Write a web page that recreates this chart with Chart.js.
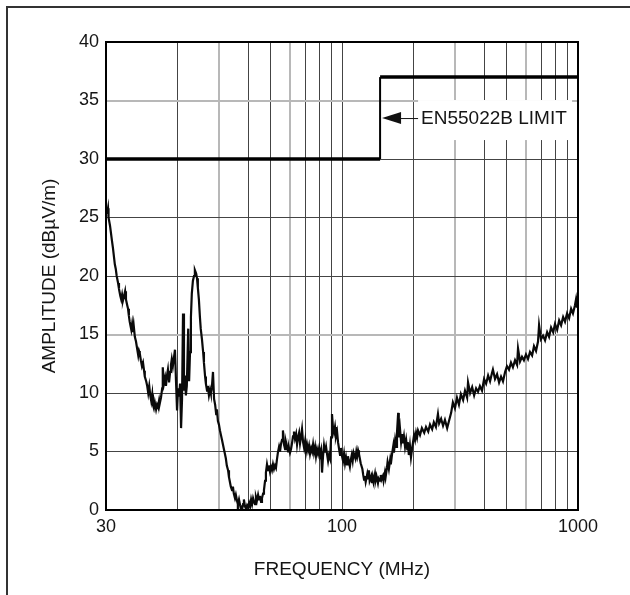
<!DOCTYPE html>
<html>
<head>
<meta charset="utf-8">
<script src="https://cdn.jsdelivr.net/npm/chart.js@4.4.1/dist/chart.umd.min.js"></script>
<style>
  body { margin: 0; background: #fff; }
  #wrap { position: relative; width: 630px; height: 595px; overflow: hidden; }
  #frame { position: absolute; left: 6px; top: 6px; width: 700px; height: 700px;
           border-top: 2px solid #333; border-left: 2px solid #333; }
  #myChart { position: absolute; left: 0; top: 0; }
</style>
</head>
<body>
<div id="wrap">
  <div id="frame"></div>
  <canvas id="myChart" width="630" height="595"></canvas>
</div>
<script>
// measured emission trace (x in grid MHz, y in dBuV/m)
var freq = [
  10.1,10.2,10.25,10.4,10.6,10.7,10.9,11.0,11.1,11.25,
  11.35,11.5,11.6,11.7,11.8,11.9,12.05,12.15,12.3,12.4,
  12.5,12.6,12.8,12.9,13.0,13.1,13.25,13.4,13.5,13.7,
  13.8,13.9,14.05,14.2,14.35,14.5,14.6,14.8,14.95,15.1,
  15.25,15.4,15.55,15.7,15.8,15.95,16.1,16.3,16.45,16.6,
  16.8,16.9,17.1,17.3,17.4,17.6,17.8,17.95,18.1,18.3,
  18.5,18.7,18.85,19.0,19.2,19.4,19.6,19.8,20.0,20.2,
  20.4,20.6,20.8,21.0,21.2,21.4,21.6,21.8,22.0,22.3,
  22.5,22.7,22.9,23.1,23.35,23.6,23.8,24.1,24.3,24.5,
  24.75,25.0,25.2,25.5,25.8,26.0,26.3,26.5,26.8,27.0,
  27.3,27.6,27.8,28.1,28.4,28.7,29.0,29.3,29.5,29.8,
  30.1,30.4,30.7,31.0,31.3,31.6,31.9,32.2,32.5,32.9,
  33.2,33.5,33.8,34.2,34.5,34.8,35.2,35.5,35.9,36.2,
  36.6,37.0,37.3,37.7,38.1,38.4,38.8,39.2,39.6,40.0,
  40.4,40.8,41.2,41.6,42.0,42.4,42.8,43.2,43.6,44.1,
  44.5,44.9,45.4,45.8,46.3,46.7,47.2,47.6,48.1,48.6,
  49.0,49.5,50.0,50.5,51.0,51.5,52.0,52.5,53.0,53.5,
  54.1,54.6,55.1,55.7,56.2,56.8,57.4,57.9,58.5,59.1,
  59.6,60.2,60.8,61.4,62.0,62.6,63.2,63.9,64.5,65.1,
  65.8,66.4,67.1,67.7,68.4,69.1,69.8,70.4,71.1,71.8,
  72.5,73.2,74.0,74.7,75.4,76.1,76.9,77.6,78.4,79.2,
  80.0,80.7,81.5,82.3,83.1,83.9,84.7,85.6,86.4,87.3,
  88.1,89.0,89.9,90.7,91.6,92.5,93.4,94.3,95.3,96.2,
  97.2,98.1,99.0,100,101,102,103,104,105,106,
  107,108,109,110,111,112,114,115,116,117,
  118,119,120,122,123,124,125,126,128,129,
  130,131,133,134,135,136,138,139,140,142,
  143,145,146,147,149,150,152,153,155,156,
  158,160,161,163,165,166,168,170,171,173,
  174,176,178,180,181,183,185,187,189,190,
  192,194,196,198,200,202,204,206,208,210,
  214,218,223,227,232,236,241,245,250,255,
  258,263,268,273,279,284,290,295,301,307,
  313,319,326,332,339,342,349,356,363,370,
  377,384,392,400,408,416,424,432,436,445,
  454,463,472,481,491,500,510,520,530,541,
  552,557,568,579,590,602,614,626,639,651,
  664,677,684,697,711,725,740,754,769,785,
  799,816,832,848,865,881,899,917,935,952,
  971,981,990,1000
];
var amp = [
  25.3,25.8,25.0,24.3,23.0,22.4,21.0,20.6,20.0,19.4,
  18.9,18.3,18.0,18.4,17.9,18.2,18.7,18.0,17.5,17.2,
  16.6,16.1,15.4,15.9,15.2,15.8,14.8,14.4,14.0,13.2,
  13.6,13.4,12.8,12.3,12.6,11.9,11.4,11.0,10.6,10.0,
  10.6,9.8,9.3,9.9,9.0,8.7,9.2,8.6,9.0,8.8,
  9.4,9.1,9.6,10.4,12.2,10.8,11.3,10.6,11.4,12.0,
  10.9,11.8,12.4,12.9,12.3,13.0,13.7,11.0,8.5,10.4,
  9.7,10.8,7.0,9.5,16.8,10.2,11.5,9.8,10.6,15.5,
  11.0,13.5,16.5,18.5,19.6,20.0,20.5,20.2,19.8,19.0,
  18.0,16.5,15.5,14.6,13.5,12.6,11.4,10.8,10.2,10.6,
  9.8,10.3,10.0,10.5,11.8,9.5,9.0,8.2,8.6,7.6,
  7.3,6.8,6.4,6.0,5.6,5.2,4.8,4.4,3.8,3.4,
  2.8,2.4,2.0,1.7,2.0,1.4,1.0,1.3,0.8,0.5,
  0.9,0.4,0.1,0.0,0.5,0.9,0.3,0.1,0.4,0.2,
  0.6,0.3,0.9,0.5,1.0,0.7,0.5,1.1,0.8,1.3,
  0.9,1.2,0.7,1.0,1.4,1.7,2.5,3.2,3.9,3.4,
  3.8,3.3,3.7,3.4,3.9,3.5,3.8,3.6,4.3,4.9,
  5.4,5.0,5.6,6.0,6.8,5.6,5.2,5.8,5.4,5.0,
  5.3,4.9,5.2,5.7,6.3,6.7,6.1,6.5,5.6,6.2,
  6.6,5.7,6.3,6.9,5.8,5.3,5.9,5.0,5.6,5.1,
  5.5,4.8,5.3,5.0,5.6,4.9,5.4,4.6,5.2,4.8,
  5.3,4.7,5.1,3.2,4.6,5.5,4.9,5.4,4.8,4.2,
  4.7,4.4,6.2,8.2,7.0,6.6,7.1,6.3,6.7,5.8,
  5.2,4.7,5.3,4.6,4.2,4.8,4.0,4.5,3.9,4.6,
  4.1,3.7,4.3,4.7,4.2,4.9,4.4,5.0,4.6,5.1,
  4.8,4.4,4.0,3.5,3.0,2.6,2.9,2.4,3.1,2.7,
  3.4,2.5,2.9,2.3,2.8,2.4,3.1,2.6,2.9,2.3,
  2.7,2.5,3.0,2.6,2.9,2.5,3.2,2.8,3.6,4.1,
  3.5,4.3,3.9,4.8,5.5,4.9,6.0,5.4,6.6,8.3,
  6.2,7.0,5.8,6.5,5.7,6.3,5.4,6.0,5.2,5.8,
  4.7,5.5,4.5,5.2,5.8,6.4,6.0,6.6,6.2,6.8,
  6.4,7.0,6.6,7.1,6.7,7.3,6.9,7.5,7.1,8.2,
  7.4,7.8,7.2,7.7,7.0,7.6,8.3,9.2,8.7,9.6,
  9.0,9.9,9.4,10.2,9.6,10.9,10.0,10.5,9.8,10.4,
  10.1,10.6,10.2,11.2,10.8,11.5,11.0,11.7,12.0,11.2,
  11.6,10.9,11.4,11.0,11.8,12.3,12.0,12.6,12.2,12.8,
  12.4,13.8,12.7,13.1,12.8,13.3,12.9,13.5,13.2,14.0,
  13.6,14.4,15.8,14.6,14.9,14.5,15.2,14.8,15.6,15.2,
  15.9,15.4,16.2,15.8,16.5,16.1,16.8,16.4,17.2,16.8,
  17.5,18.0,17.3,18.3
];

// EN55022B limit line
var limitFreq = [10, 145, 145, 1000];
var limitAmp = [30, 30, 37, 37];
var noteText = 'EN55022B LIMIT';
var noteLevel = 33.5;

// axes
var xGrid = [10,20,30,40,50,60,70,80,90,100,200,300,400,500,600,700,800,900,1000];
var xTickValues = [10, 100, 1000];
var xTickLabels = ['30', '100', '1000'];
var xLightGrid = [30, 60, 300, 600];
var yLightGrid = [15, 35];

var FONT = "'Liberation Sans', Arial, Helvetica, sans-serif";
var TEXT = '#151515';

var ctx = document.getElementById('myChart');

var limitNote = {
  id: 'limitNote',
  afterDatasetsDraw: function(chart) {
    var c = chart.ctx;
    var area = chart.chartArea;
    var tipX = chart.scales.x.getPixelForValue(limitFreq[1]) + 2;
    var midY = chart.scales.y.getPixelForValue(noteLevel);
    c.save();
    // white box behind label
    c.fillStyle = '#fff';
    c.fillRect(tipX + 36, midY - 18, 154, 40);
    // arrow
    c.fillStyle = '#111';
    c.beginPath();
    c.moveTo(tipX, midY);
    c.lineTo(tipX + 19, midY - 6);
    c.lineTo(tipX + 19, midY + 6);
    c.closePath();
    c.fill();
    c.strokeStyle = '#111';
    c.lineWidth = 1;
    c.beginPath();
    c.moveTo(tipX + 18, midY + 0.5);
    c.lineTo(tipX + 36, midY + 0.5);
    c.stroke();
    // label
    c.font = '19px ' + FONT;
    c.fillStyle = TEXT;
    c.textBaseline = 'middle';
    c.textAlign = 'left';
    c.fillText(noteText, tipX + 39, midY + 1);
    // plot frame
    c.strokeStyle = '#000';
    c.lineWidth = 2;
    c.strokeRect(area.left, area.top, area.right - area.left, area.bottom - area.top);
    c.restore();
  }
};

new Chart(ctx, {
  type: 'line',
  data: {
    datasets: [{
      label: 'limit',
      data: limitFreq.map(function(f, i) { return {x: f, y: limitAmp[i]}; }),
      borderColor: '#000',
      borderWidth: 3.5,
      pointRadius: 0,
      segment: {
        borderWidth: function(s) { return s.p0.parsed.x === s.p1.parsed.x ? 2 : 3.5; }
      }
    }, {
      label: 'emission',
      data: freq.map(function(f, i) { return {x: f, y: amp[i]}; }),
      borderColor: '#0a0a0a',
      borderWidth: 2.2,
      pointRadius: 0,
      tension: 0
    }]
  },
  options: {
    responsive: false,
    animation: false,
    events: [],
    layout: { padding: { left: 0, right: 52, top: 42, bottom: 0 } },
    plugins: { legend: { display: false }, tooltip: { enabled: false } },
    scales: {
      x: {
        type: 'logarithmic',
        min: 10,
        max: 1000,
        afterBuildTicks: function(scale) {
          scale.ticks = xGrid.map(function(v) { return {value: v}; });
        },
        afterFit: function(scale) { scale.height = 85; },
        ticks: {
          autoSkip: false,
          maxRotation: 0,
          padding: 6,
          color: TEXT,
          font: { family: FONT, size: 18 },
          callback: function(v) {
            var i = xTickValues.indexOf(v);
            return i >= 0 ? xTickLabels[i] : '';
          }
        },
        grid: {
          drawTicks: false,
          color: function(c) { return c.tick && xLightGrid.indexOf(c.tick.value) >= 0 ? '#b8b8b8' : '#444'; },
          lineWidth: function(c) { return c.tick && xLightGrid.indexOf(c.tick.value) >= 0 ? 2 : 1; }
        },
        border: { display: true, color: '#000', width: 2 },
        title: {
          display: true,
          text: 'FREQUENCY (MHz)',
          color: TEXT,
          font: { family: FONT, size: 19 },
          padding: { top: 0, bottom: 14 }
        }
      },
      y: {
        type: 'linear',
        min: 0,
        max: 40,
        afterFit: function(scale) { scale.width = 106; },
        ticks: {
          stepSize: 5,
          padding: 7,
          color: TEXT,
          font: { family: FONT, size: 18 }
        },
        grid: {
          drawTicks: false,
          color: function(c) { return c.tick && yLightGrid.indexOf(c.tick.value) >= 0 ? '#b8b8b8' : '#444'; },
          lineWidth: function(c) { return c.tick && yLightGrid.indexOf(c.tick.value) >= 0 ? 2 : 1; }
        },
        border: { display: true, color: '#000', width: 2 },
        title: {
          display: true,
          text: 'AMPLITUDE (dB\u00b5V/m)',
          color: TEXT,
          font: { family: FONT, size: 19 },
          padding: { top: 38, bottom: 0 }
        }
      }
    }
  },
  plugins: [limitNote]
});
</script>
</body>
</html>
